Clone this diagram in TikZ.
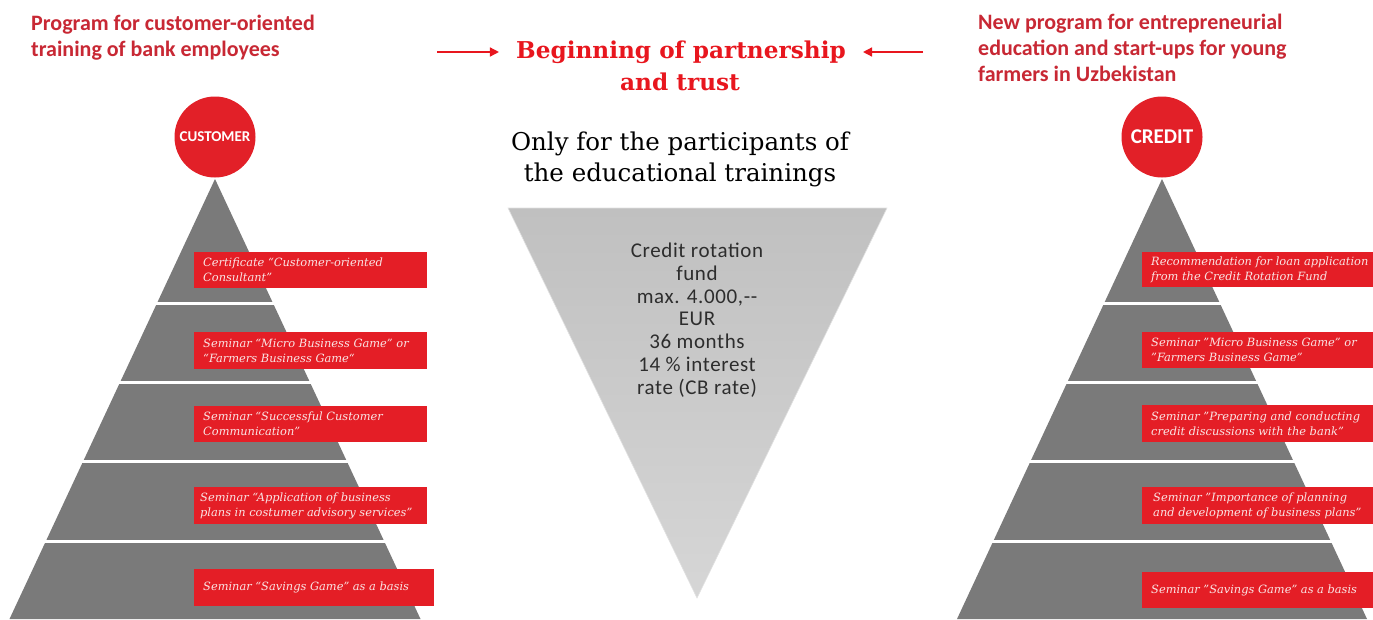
\documentclass[tikz,border=0pt]{standalone}
\usepackage{fontspec}
\setmainfont{DejaVu Serif}
\newfontfamily\carl{Carlito}
\newfontfamily\carlsp[LetterSpace=3]{Carlito}
\usetikzlibrary{arrows.meta}
\definecolor{pyrgray}{RGB}{122,122,122}
\definecolor{boxred}{RGB}{228,30,38}
\definecolor{circred}{RGB}{226,32,40}
\definecolor{headred}{RGB}{200,40,52}
\definecolor{titlered}{RGB}{232,22,30}
\definecolor{boxtext}{RGB}{250,228,228}
\definecolor{funtext}{RGB}{45,45,45}
\tikzset{
  pyr/.style={fill=pyrgray, draw=none},
  sep/.style={draw=white, line width=3pt},
  redbox/.style={fill=boxred, draw=none},
  boxlabel/.style={anchor=west, align=left, text=boxtext, inner sep=0pt,
    font=\fontsize{11.4}{15}\selectfont\itshape},
  topcircle/.style={circle, fill=circred, minimum size=81pt, inner sep=0pt, text=white},
  heading/.style={anchor=north west, align=left, text=headred, inner sep=0pt,
    font=\carl\bfseries\fontsize{22}{25.8}\selectfont},
  redarrow/.style={draw=titlered, line width=1.4pt, -{Triangle[length=9pt,width=9pt]}},
}
\begin{document}
\begin{tikzpicture}[x=1pt,y=-1pt]
\useasboundingbox (0,0) rectangle (1373,619);
\fill[white] (0,0) rectangle (1373,619);

% headings
\node[heading] (hl) at (31,15) {Program for customer-oriented\\training of bank employees};
\node[heading] (hr) at (978,14) {New program for entrepreneurial\\education and start-ups for young\\farmers in Uzbekistan};

% title
\node[text=titlered, font=\bfseries\fontsize{23.2}{30}\selectfont, inner sep=0pt] (t1) at (681,52) {Beginning of partnership};
\node[text=titlered, font=\bfseries\fontsize{23.2}{30}\selectfont, inner sep=0pt] (t2) at (680,82) {and trust};
\coordinate (la) at (437,52);
\coordinate (ra) at (923,52);
\draw[redarrow] (la) -- ([xshift=-17pt]t1.west);
\draw[redarrow] (ra) -- ([xshift=17pt]t1.east);

\node[align=center, font=\fontsize{24.5}{31}\selectfont, text=black, inner sep=0pt] (only) at (680,159) {Only for the participants of\\the educational trainings};

% inverted triangle
\shade[top color={rgb,255:red,192;green,192;blue,192}, bottom color={rgb,255:red,214;green,214;blue,214}, draw={rgb,255:red,225;green,225;blue,225}, line width=0.6pt]
  (508,208) -- (887,208) -- (697,598) -- cycle;
\node[align=center, text=funtext, font=\carlsp\fontsize{21}{22.8}\selectfont, inner sep=0pt] (fund) at (697,320)
  {Credit rotation\\fund\\max. 4.000,--\\EUR\\36 months\\14 \% interest\\rate (CB rate)};

% left pyramid
\fill[pyr] (215,179) -- (420.5,619) -- (9.5,619) -- cycle;
\foreach \yy in {303,382,461,541} \draw[sep] (0,\yy) -- (440,\yy);
\node[topcircle, font=\carl\bfseries\fontsize{15}{16}\selectfont] (cust) at (215,137) {CUSTOMER};

\fill[redbox] (194,252) rectangle (427,288);
\node[boxlabel] (l1) at (203,270) {Certificate “Customer-oriented\\Consultant”};
\fill[redbox] (194,332) rectangle (427,369);
\node[boxlabel] (l2) at (203,350.5) {Seminar “Micro Business Game” or\\“Farmers Business Game“};
\fill[redbox] (194,406) rectangle (427,442);
\node[boxlabel] (l3) at (203,424) {Seminar “Successful Customer\\Communication”};
\fill[redbox] (194,487) rectangle (427,524);
\node[boxlabel] (l4) at (200,505.5) {Seminar “Application of business\\plans in costumer advisory services”};
\fill[redbox] (194,569) rectangle (434,606);
\node[boxlabel] (l5) at (203,587.5) {Seminar “Savings Game” as a basis};

% right pyramid
\fill[pyr] (1162,179) -- (1367,619) -- (957,619) -- cycle;
\foreach \yy in {303,382,461,541} \draw[sep] (940,\yy) -- (1373,\yy);
\node[topcircle, font=\carl\bfseries\fontsize{21}{22}\selectfont] (cred) at (1162,137) {CREDIT};

\fill[redbox] (1142,252) rectangle (1380,287);
\node[boxlabel] (r1) at (1151,269.5) {Recommendation for loan application\\from the Credit Rotation Fund};
\fill[redbox] (1142,332) rectangle (1380,368);
\node[boxlabel] (r2) at (1151,350) {Seminar "Micro Business Game" or\\"Farmers Business Game"};
\fill[redbox] (1142,405) rectangle (1380,442);
\node[boxlabel] (r3) at (1151,423.5) {Seminar "Preparing and conducting\\credit discussions with the bank"};
\fill[redbox] (1142,487) rectangle (1380,524);
\node[boxlabel] (r4) at (1153,505.5) {Seminar "Importance of planning\\and development of business plans"};
\fill[redbox] (1142,572) rectangle (1380,608);
\node[boxlabel] (r5) at (1151,590) {Seminar "Savings Game" as a basis};
\end{tikzpicture}
\end{document}
